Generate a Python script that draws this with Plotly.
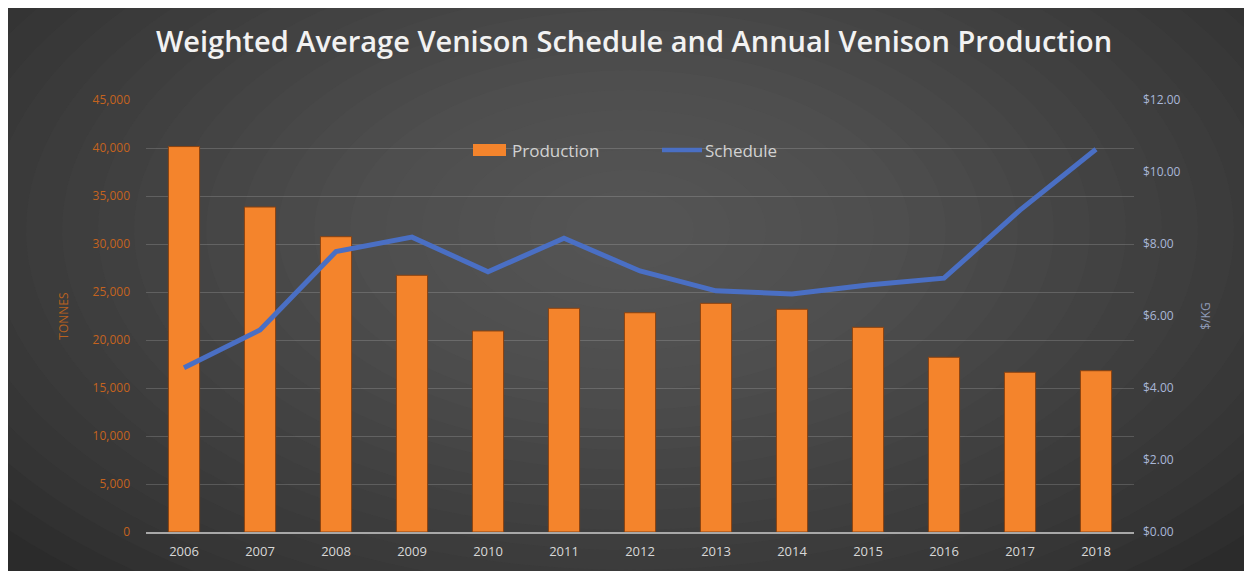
import plotly.graph_objects as go

years = ["2006", "2007", "2008", "2009", "2010", "2011", "2012",
         "2013", "2014", "2015", "2016", "2017", "2018"]
production = [40150, 33850, 30760, 26740, 20940, 23300, 22840,
              23820, 23200, 21320, 18200, 16640, 16800]
schedule = [4.56, 5.61, 7.79, 8.19, 7.23, 8.16, 7.25,
            6.70, 6.61, 6.86, 7.05, 8.94, 10.63]
left_ticks = [0, 5000, 10000, 15000, 20000, 25000, 30000, 35000, 40000, 45000]
right_ticks = [0, 2, 4, 6, 8, 10, 12]
right_labels = ["$%.2f" % v for v in right_ticks]

# page body margin of 8px -> figure drawn at (8, 8)
OFF = 8
W, H = 1244, 563
L, R, T, B = 138, 118, 92, 39
PW, PH = W - L - R, H - T - B


def px(X):
    return (X - OFF - L) / PW


def py(Y):
    return (H - B - (Y - OFF)) / PH


fig = go.Figure()
fig.add_trace(go.Bar(
    x=years, y=production, name="Production",
    marker=dict(color="#F4842C", line=dict(color="#8a4210", width=1)),
    yaxis="y", showlegend=False,
))
fig.add_trace(go.Scatter(
    x=years, y=schedule, name="Schedule", mode="lines",
    line=dict(color="#4A6FC4", width=5),
    yaxis="y2", showlegend=False,
))

shapes = []
cx, cy = 630, 230
n = 22
for i in range(n):
    rx = 820 - i * 36
    ry = 460 - i * 20
    shapes.append(dict(type="circle", xref="paper", yref="paper",
                       x0=px(cx - rx), x1=px(cx + rx),
                       y0=py(cy + ry), y1=py(cy - ry),
                       fillcolor="rgba(125,125,125,0.04)",
                       line=dict(width=0), layer="below"))

# legend drawn manually
shapes.append(dict(type="rect", xref="paper", yref="paper",
                   x0=px(473), x1=px(506), y0=py(156), y1=py(144),
                   fillcolor="#F4842C", line=dict(width=0)))
shapes.append(dict(type="line", xref="paper", yref="paper",
                   x0=px(662), x1=px(702), y0=py(150), y1=py(150),
                   line=dict(color="#4A6FC4", width=4.5)))

annotations = [
    dict(text="Production", xref="paper", yref="paper", x=px(510), y=py(150),
         xanchor="left", yanchor="middle", showarrow=False,
         font=dict(family="Open Sans", size=17, color="#d2d2d2")),
    dict(text="Schedule", xref="paper", yref="paper", x=px(703), y=py(150),
         xanchor="left", yanchor="middle", showarrow=False,
         font=dict(family="Open Sans", size=17, color="#d2d2d2")),
]

fig.update_layout(
    width=W, height=H,
    margin=dict(l=L, r=R, t=T, b=B, autoexpand=False),
    paper_bgcolor="#2b2b2b",
    plot_bgcolor="rgba(0,0,0,0)",
    shapes=shapes,
    annotations=annotations,
    title=dict(text="Weighted Average Venison Schedule and Annual Venison Production",
               x=px(634), xref="paper", xanchor="center",
               y=1 - (42 - OFF) / H, yanchor="middle",
               font=dict(family="Open Sans", size=29, weight=600, color="#f2f2f2")),
    bargap=0.59,
    showlegend=False,
    xaxis=dict(type="category", showgrid=False, showline=True, linecolor="#a8a8a8", linewidth=2,
               ticks="", ticklabelstandoff=6, automargin=False,
               tickfont=dict(family="Liberation Sans Narrow, Open Sans", size=13, color="#d8d8d8")),
    yaxis=dict(range=[0, 45000], tickvals=left_ticks, tickformat=",d", automargin=False,
               showgrid=True, gridcolor="rgba(255,255,255,0.16)", gridwidth=1,
               zeroline=False, showline=False, ticks="", ticklabelstandoff=15,
               tickfont=dict(family="Open Sans", size=12, color="#c4631e"),
               title=dict(text="TONNES", standoff=21,
                          font=dict(family="Open Sans", size=12, color="#b8611f"))),
    yaxis2=dict(range=[0, 12], tickvals=right_ticks, ticktext=right_labels, automargin=False,
                overlaying="y", side="right", showgrid=False, zeroline=False, ticks="",
                ticklabelstandoff=8,
                tickfont=dict(family="Open Sans", size=12, color="#a9b7d8"),
                title=dict(text="$/KG", standoff=22,
                           font=dict(family="Open Sans", size=12, color="#8f9bb8"))),
)

fig.write_html("out.html")
